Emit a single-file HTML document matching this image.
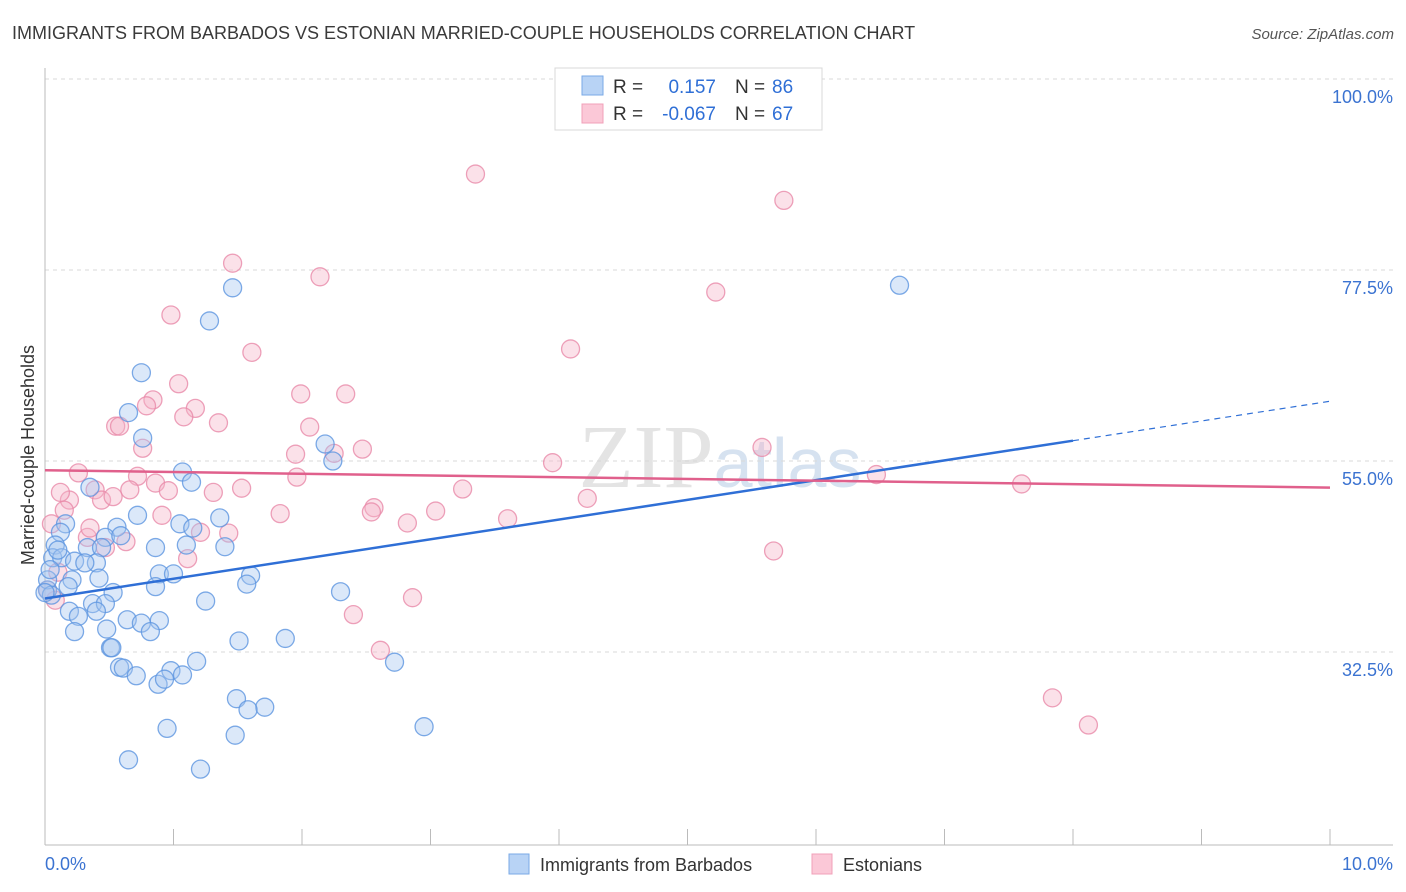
<!DOCTYPE html>
<html><head><meta charset="utf-8">
<style>
body{margin:0;background:#fff;font-family:"Liberation Sans",sans-serif;}
svg{display:block}
</style></head>
<body>
<svg id="chart" width="1406" height="892" font-family="Liberation Sans, sans-serif">
<text x="12" y="39" font-size="18" fill="#3a3a3a">IMMIGRANTS FROM BARBADOS VS ESTONIAN MARRIED-COUPLE HOUSEHOLDS CORRELATION CHART</text>
<text x="1394" y="39" font-size="15" fill="#555" font-style="italic" text-anchor="end">Source: ZipAtlas.com</text>
<text x="720" y="487" font-size="90" fill="#e4e4e4" text-anchor="middle" font-family="Liberation Serif, serif">ZIP<tspan font-family="Liberation Sans, sans-serif" font-size="70" fill="#d6e2f0">atlas</tspan></text>
<g id="grid"></g>
<g id="axes"></g>
<g id="pts"></g>
<g id="trend"></g>
<text transform="translate(34,455) rotate(-90)" font-size="18" fill="#333" text-anchor="middle">Married-couple Households</text>
<g>
<rect x="555" y="68" width="267" height="62" fill="#fff" stroke="#d8d8d8"/>
<rect x="582" y="76" width="21" height="19" fill="#b8d3f5" stroke="#7aaae6"/>
<rect x="582" y="104" width="21" height="19" fill="#fbc8d7" stroke="#f0a0b8"/>
<text x="613" y="93" font-size="19" fill="#333">R =</text>
<text x="716" y="93" font-size="19" fill="#2f6fd6" text-anchor="end">0.157</text>
<text x="735" y="93" font-size="19" fill="#333">N =</text>
<text x="772" y="93" font-size="19" fill="#2f6fd6">86</text>
<text x="613" y="120" font-size="19" fill="#333">R =</text>
<text x="716" y="120" font-size="19" fill="#2f6fd6" text-anchor="end">-0.067</text>
<text x="735" y="120" font-size="19" fill="#333">N =</text>
<text x="772" y="120" font-size="19" fill="#2f6fd6">67</text>
</g>
<g>
<rect x="509" y="854" width="20" height="20" fill="#b8d3f5" stroke="#7aaae6"/>
<text x="540" y="871" font-size="18" fill="#333">Immigrants from Barbados</text>
<rect x="812" y="854" width="20" height="20" fill="#fbc8d7" stroke="#f0a0b8"/>
<text x="843" y="871" font-size="18" fill="#333">Estonians</text>
</g>
</svg>
<script>
const yTicks=[100,77.5,55,32.5];
const yTickLabels=["100.0%","77.5%","55.0%","32.5%"];
const xTickLabels=["0.0%","10.0%"];
const blueX=[1.46,1.28,0.75,0.65,0.76,2.18,2.24,1.07,1.14,0.35,0.72,1.05,1.15,1.36,0.16,0.12,0.56,0.47,0.59,0.08,0.33,0.44,0.86,1.10,1.40,0.06,0.13,0.23,0.40,0.31,0.21,0.42,0.89,1.00,1.60,1.57,0.86,2.30,0.18,0.53,1.25,0.37,0.47,0.19,0.40,0.26,0.64,0.75,0.89,0.82,0.23,0.48,1.51,1.87,0.51,0.52,2.72,1.18,0.58,0.61,0.71,0.98,1.07,0.88,0.93,1.49,1.71,1.58,0.95,1.48,2.95,0.65,1.21,6.65,0.02,0.02,0.04,0.05,0.10,0.0];
const blueY=[75.4,71.5,65.4,60.7,57.7,57.0,55.0,53.7,52.5,51.9,48.6,47.6,47.1,48.3,47.6,46.6,47.2,46.0,46.2,45.1,44.8,44.8,44.8,45.1,44.9,43.6,43.6,43.2,43.0,43.0,41.0,41.2,41.7,41.7,41.5,40.5,40.2,39.6,40.2,39.5,38.5,38.2,38.2,37.3,37.3,36.7,36.3,35.9,36.2,34.9,34.9,35.2,33.8,34.1,33.0,33.0,31.3,31.4,30.7,30.6,29.7,30.3,29.8,28.7,29.3,27.0,26.0,25.7,23.5,22.7,23.7,19.8,18.7,75.7,39.8,41.0,42.2,39.2,44.5,39.5];
const pinkX=[3.35,5.75,1.46,2.14,5.22,0.98,1.61,4.09,1.04,1.99,2.34,0.84,0.79,1.17,1.08,0.55,0.58,1.35,0.76,2.06,5.58,1.95,2.25,2.47,3.95,0.26,0.72,1.96,0.86,0.96,1.53,0.39,0.66,1.31,6.47,7.60,3.25,4.22,0.19,0.12,0.44,0.53,2.56,2.54,1.83,3.04,0.91,3.60,2.82,0.15,0.05,1.43,1.21,0.33,0.63,0.47,5.67,1.11,0.10,0.02,2.86,2.40,2.61,7.84,8.12,0.35,0.08];
const pinkY=[88.8,85.7,78.3,76.7,74.9,72.2,67.8,68.2,64.1,62.9,62.9,62.2,61.5,61.2,60.2,59.1,59.1,59.5,56.5,59.0,56.6,55.8,55.9,56.4,54.8,53.6,53.2,53.1,52.4,51.5,51.8,51.6,51.6,51.3,53.4,52.3,51.7,50.6,50.4,51.3,50.4,50.8,49.5,49.0,48.8,49.1,48.6,48.2,47.7,49.2,47.6,46.5,46.6,46.0,45.5,44.8,44.4,43.5,41.9,39.8,38.9,36.9,32.7,27.1,23.9,47.1,38.6];

const NS="http://www.w3.org/2000/svg";
const X0=45,X1=1330,Yref=461,PPU=191/22.5;
function xs(v){return X0+v*(X1-X0)/10;}
function ys(v){return Yref-(v-55)*PPU;}
function mk(tag,attrs,parent){const e=document.createElementNS(NS,tag);for(const k in attrs)e.setAttribute(k,attrs[k]);parent.appendChild(e);return e;}
const grid=document.getElementById('grid'),axes=document.getElementById('axes'),pts=document.getElementById('pts'),trend=document.getElementById('trend');
yTicks.forEach((t,i)=>{
  const l=mk('line',{x1:45,x2:1393,y1:ys(t),y2:ys(t),stroke:'#d9d9d9','stroke-dasharray':'4,4'},grid);
  
  
  const tx=mk('text',{x:1393,y:ys(t)+24,'font-size':18,fill:'#3b73d1','text-anchor':'end'},grid);
  tx.textContent=yTickLabels[i];
  
  
});
let a=mk('line',{x1:45,x2:45,y1:68,y2:845,stroke:'#bbb'},axes);


a=mk('line',{x1:45,x2:1393,y1:845,y2:845,stroke:'#bbb'},axes);


for(let i=0;i<=10;i++){
  const t=mk('line',{x1:xs(i),x2:xs(i),y1:829,y2:845,stroke:'#bbb'},axes);
  
  
}
let xl=mk('text',{x:45,y:870,'font-size':18,fill:'#3b73d1'},axes);xl.textContent=xTickLabels[0];


xl=mk('text',{x:1393,y:870,'font-size':18,fill:'#3b73d1','text-anchor':'end'},axes);xl.textContent=xTickLabels[1];



function drawPts(X,Y,fill,stroke,name){
  X.forEach((x,i)=>{
    const c=mk('circle',{cx:xs(x),cy:ys(Y[i]),r:9,fill:fill,'fill-opacity':0.4,stroke:stroke,'stroke-width':1.3,'stroke-opacity':0.8},pts);
    
    
  });
}
drawPts(pinkX,pinkY,'#f5b3c8','#e98aa9','estonians-point');
drawPts(blueX,blueY,'#a6c6f0','#5d95e0','barbados-point');

function reg(X,Y){const n=X.length;let sx=0,sy=0,sxx=0,sxy=0;for(let i=0;i<n;i++){sx+=X[i];sy+=Y[i];sxx+=X[i]*X[i];sxy+=X[i]*Y[i];}const b=(n*sxy-sx*sy)/(n*sxx-sx*sx);return [(sy-b*sx)/n,b];}
const [ba,bb]=reg(blueX,blueY);
let l=mk('line',{x1:xs(0),y1:ys(ba),x2:xs(8),y2:ys(ba+bb*8),stroke:'#2f6fd6','stroke-width':2.5},trend);


l=mk('line',{x1:xs(8),y1:ys(ba+bb*8),x2:xs(10),y2:ys(ba+bb*10),stroke:'#2f6fd6','stroke-width':1.2,'stroke-dasharray':'6,5'},trend);


const [pa,pb]=reg(pinkX,pinkY);
l=mk('line',{x1:xs(0),y1:ys(pa),x2:xs(10),y2:ys(pa+pb*10),stroke:'#e0608c','stroke-width':2.5},trend);


</script>
</body></html>
